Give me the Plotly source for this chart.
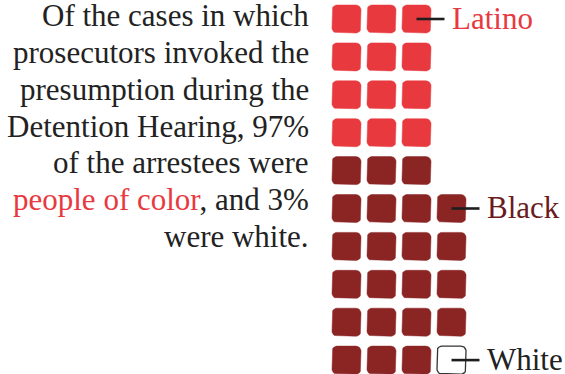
import numpy as np
import plotly.graph_objects as go

# waffle data: one square per case, ~3% each
groups = ["Latino", "Black", "White"]
counts = [12, 22, 1]
row_widths = [3, 3, 3, 3, 3, 4, 4, 4, 4, 4]

fills = ["#e8393f", "#8b2524", "#ffffff"]
outlines = ["#e8393f", "#8b2524", "#333333"]
label_colors = ["#e8393f", "#6a1b1b", "#222222"]
label_cells = [(0, 2), (5, 3), (9, 3)]  # (row, col) the leader line starts from

text_lines = [
    "Of the cases in which",
    "prosecutors invoked the",
    "presumption during the",
    "Detention Hearing, 97%",
    "of the arrestees were",
    "<span style='color:#e8393f'>people of color</span>, and 3%",
    "were white.",
]

W, H = 565, 374
PX, PY = 35.0, 37.9         # pixel pitch of the grid
X0, Y0 = 346.5, 19.0        # pixel centre of first cell
SW, SH = 29 / PX, 28 / PY   # square size in grid units
RAD = 5.0                   # corner radius, px


def rounded_rect(cx, cy):
    rx, ry = RAD / PX, RAD / PY
    hw, hh = SW / 2, SH / 2
    xs, ys = [], []
    corners = [(cx + hw - rx, cy - hh + ry, -90, 0),
               (cx + hw - rx, cy + hh - ry, 0, 90),
               (cx - hw + rx, cy + hh - ry, 90, 180),
               (cx - hw + rx, cy - hh + ry, 180, 270)]
    for ccx, ccy, a0, a1 in corners:
        for a in np.linspace(np.radians(a0), np.radians(a1), 7):
            xs.append(ccx + rx * np.cos(a))
            ys.append(ccy + ry * np.sin(a))
    xs.append(xs[0])
    ys.append(ys[0])
    return xs, ys


# assign each cell to a group, top to bottom, left to right
owner = []
for g, n in enumerate(counts):
    owner += [g] * n
cells = {g: [] for g in range(len(groups))}
k = 0
for r, w in enumerate(row_widths):
    for c in range(w):
        cells[owner[k]].append((r, c))
        k += 1

fig = go.Figure()
for g, name in enumerate(groups):
    xs, ys = [], []
    for r, c in cells[g]:
        px_, py_ = rounded_rect(c, r)
        xs += px_ + [None]
        ys += py_ + [None]
    fig.add_trace(go.Scatter(
        x=xs, y=ys, mode="lines", fill="toself", fillcolor=fills[g],
        line=dict(color=outlines[g], width=1.3 if g == 2 else 0.5),
        hoverinfo="skip", showlegend=False))

for g, name in enumerate(groups):
    r, c = label_cells[g]
    fig.add_trace(go.Scatter(
        x=[c, c + 0.8], y=[r, r], mode="lines",
        line=dict(color="#1e1e1e", width=2.6),
        hoverinfo="skip", showlegend=False))
    fig.add_annotation(
        x=c + 0.97, y=r - 0.02, xref="x", yref="y", text=name,
        showarrow=False, xanchor="left", yanchor="middle",
        font=dict(family="Liberation Serif", size=31, color=label_colors[g]))

for i, line in enumerate(text_lines):
    base = 26 + 36.7 * i
    fig.add_annotation(
        x=311 / W, y=1 - (base - 10) / H, xref="paper", yref="paper",
        text=line, showarrow=False, xanchor="right", yanchor="middle",
        font=dict(family="Liberation Serif", size=31, color="#222222"))

fig.update_xaxes(range=[-X0 / PX, (W - X0) / PX], visible=False)
fig.update_yaxes(range=[(H - Y0) / PY, -Y0 / PY], visible=False)
fig.update_layout(
    width=W, height=H, margin=dict(l=0, r=0, t=0, b=0),
    plot_bgcolor="white", paper_bgcolor="white")

fig.write_html("out.html", config={"displayModeBar": False},
               post_script="document.body.style.margin='0px';")
